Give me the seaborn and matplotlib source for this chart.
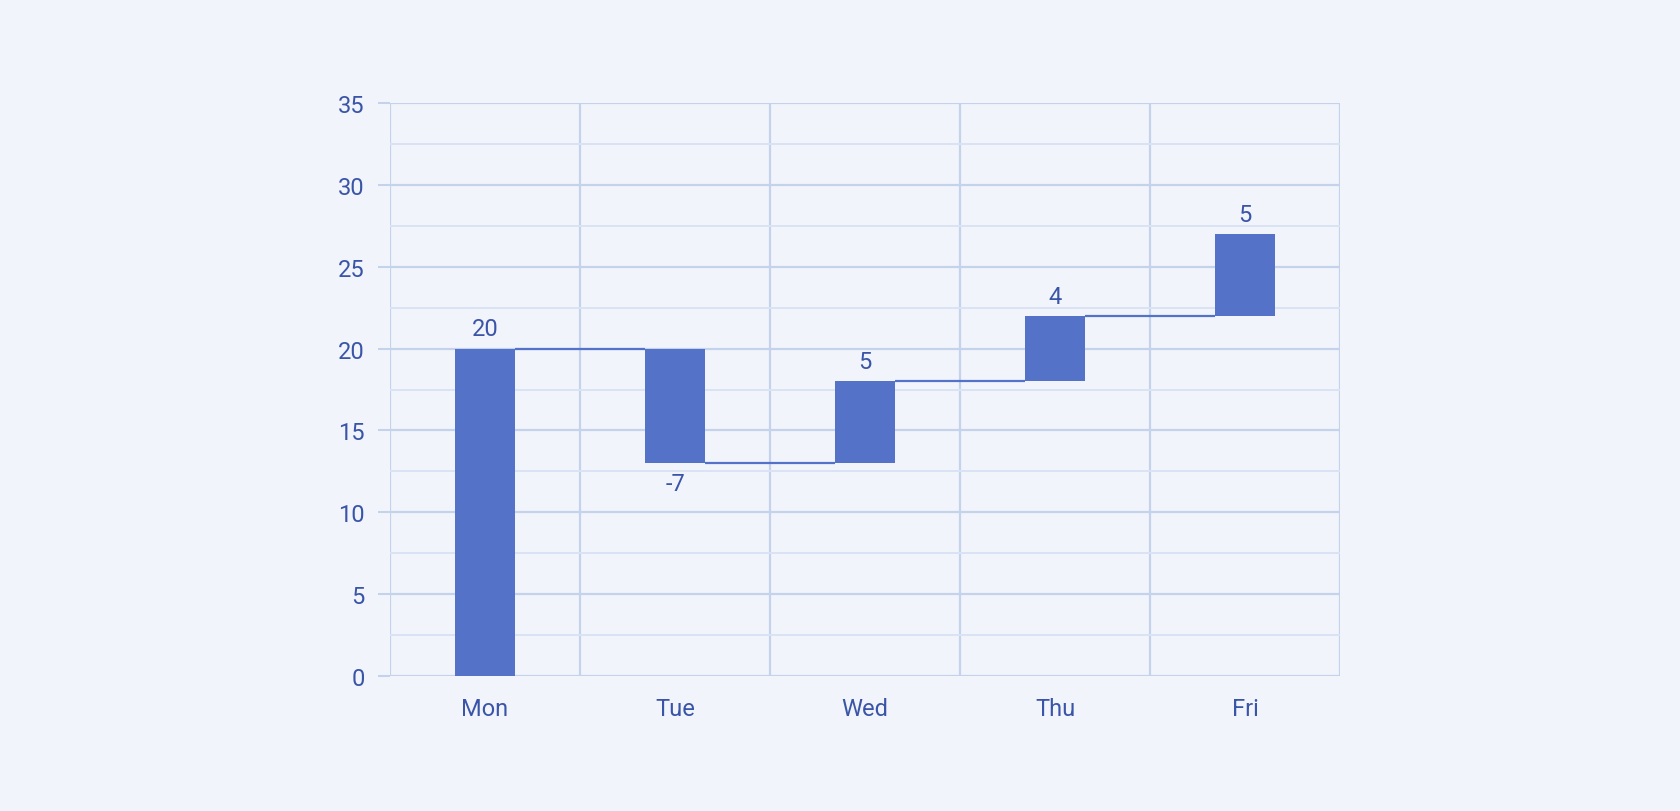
import matplotlib
matplotlib.use("Agg")
import matplotlib.pyplot as plt
from matplotlib.ticker import MultipleLocator
import seaborn as sns
import pandas as pd
import numpy as np

days = ["Mon", "Tue", "Wed", "Thu", "Fri"]
changes = [20, -7, 5, 4, 5]
y_ticks = [0, 5, 10, 15, 20, 25, 30, 35]

BG = "#f1f5fb"
BAR = "#5473c8"
TXT = "#3a55a8"
GRID = "#c4d2ec"
GRID_MINOR = "#d9e3f3"

ends = np.cumsum(changes)
starts = ends - np.array(changes)
tops = np.maximum(starts, ends)
bottoms = np.minimum(starts, ends)

df = pd.DataFrame({"day": days, "top": tops})

sns.set_theme(style="white")
plt.rcParams["font.family"] = ["Roboto", "DejaVu Sans"]

fig = plt.figure(figsize=(16.8, 8.12), dpi=100, facecolor=BG)
ax = fig.add_axes([390 / 1680, 1 - 677 / 812, 950 / 1680, 573 / 812])
ax.set_facecolor(BG)

sns.barplot(data=df, x="day", y="top", order=days, color=BAR, width=0.316,
            saturation=1, ax=ax, zorder=3, linewidth=0)

patches = list(ax.patches)
for p, b, t in zip(patches, bottoms, tops):
    p.set_y(b)
    p.set_height(t - b)

# connectors
for i in range(len(patches) - 1):
    p, q = patches[i], patches[i + 1]
    level = ends[i]
    ax.plot([p.get_x() + p.get_width(), q.get_x()], [level, level],
            color=BAR, lw=1.6, zorder=3, solid_capstyle="butt")

# labels
for p, c, b, t in zip(patches, changes, bottoms, tops):
    cx = p.get_x() + p.get_width() / 2
    if c >= 0:
        ax.annotate(f"{c}", (cx, t), xytext=(0, 9.5), textcoords="offset points",
                    ha="center", va="baseline", fontsize=17, color=TXT, zorder=4)
    else:
        ax.annotate(f"{c}", (cx, b), xytext=(0, -6.5), textcoords="offset points",
                    ha="center", va="top", fontsize=17, color=TXT, zorder=4)

ax.set_xlim(-0.5, len(days) - 0.5)
ax.set_ylim(0, 35)
ax.set_yticks(y_ticks)
ax.yaxis.set_minor_locator(MultipleLocator(2.5))
ax.set_xticks(np.arange(-0.5, len(days), 1.0), minor=True)

ax.grid(which="major", axis="y", color=GRID, lw=1.6, zorder=0)
ax.grid(which="minor", axis="y", color=GRID_MINOR, lw=1.4, zorder=0)
ax.grid(which="minor", axis="x", color=GRID, lw=1.6, zorder=0)
ax.grid(which="major", axis="x", visible=False)

for s in ax.spines.values():
    s.set_visible(False)

ax.tick_params(axis="y", which="major", length=8.6, width=1.5, color=GRID,
               pad=9.5, labelsize=17, labelcolor=TXT, left=True)
ax.tick_params(axis="y", which="minor", length=0)
ax.tick_params(axis="x", which="both", length=0, pad=15, labelsize=17, labelcolor=TXT)
ax.set_xlabel("")
ax.set_ylabel("")

fig.savefig("out.png", dpi=100, facecolor=BG)
